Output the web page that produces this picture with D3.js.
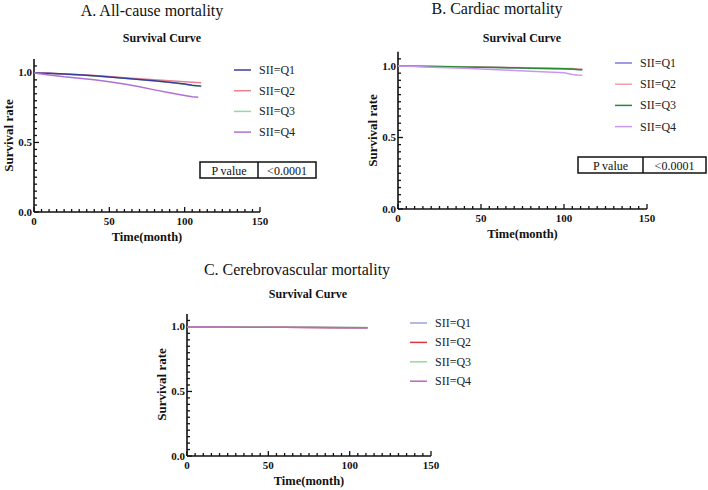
<!DOCTYPE html>
<html><head><meta charset="utf-8">
<script src="https://cdn.jsdelivr.net/npm/d3@7"></script>
<style>body{margin:0;background:#fff}svg{display:block}text{font-family:"Liberation Serif","Times New Roman",serif}</style>
</head><body>
<svg id="c" width="708" height="490"></svg>
<script>
// ---------- DATA ----------
const seriesNames = ["SII=Q1","SII=Q2","SII=Q3","SII=Q4"];
const xTicks = [0,50,100,150];
const yTicks = [0.0,0.5,1.0];
const pLabel = ["P value","<0.0001"];

// A. All-cause mortality
const timeA = [0,10,20,30,40,50,60,70,80,90,100,105,111];
const timeA4 = [0,10,20,30,40,50,60,70,80,90,100,105,109];
const a_Q1 = [1,0.997,0.992,0.986,0.979,0.971,0.962,0.953,0.943,0.932,0.92,0.912,0.905];
const a_Q2 = [1,0.997,0.993,0.987,0.981,0.974,0.966,0.958,0.950,0.943,0.936,0.933,0.93];
const a_Q3 = [1,0.996,0.991,0.985,0.978,0.970,0.961,0.952,0.942,0.931,0.918,0.910,0.903];
const a_Q4 = [1,0.985,0.972,0.962,0.950,0.937,0.920,0.900,0.878,0.857,0.838,0.828,0.825];

// B. Cardiac mortality
const timeB = [0,10,20,30,40,50,60,70,80,90,100,105,108,111];
const b_Q1 = [1,0.999,0.997,0.995,0.993,0.991,0.989,0.987,0.984,0.982,0.980,0.978,0.976,0.975];
const b_Q2 = [1,0.999,0.998,0.996,0.994,0.993,0.991,0.989,0.987,0.985,0.983,0.982,0.98,0.979];
const b_Q3 = [1,0.999,0.997,0.995,0.993,0.991,0.989,0.987,0.985,0.983,0.981,0.979,0.975,0.974];
const b_Q4 = [1,0.996,0.992,0.988,0.984,0.979,0.974,0.969,0.963,0.958,0.953,0.94,0.937,0.936];

// C. Cerebrovascular mortality
const timeC = [0,20,40,60,80,90,100,111];
const c_Q1 = [1,0.999,0.998,0.997,0.996,0.995,0.995,0.994];
const c_Q2 = [1,0.999,0.998,0.997,0.995,0.993,0.994,0.994];
const c_Q3 = [1,0.999,0.999,0.998,0.997,0.996,0.995,0.995];
const c_Q4 = [1,0.999,0.998,0.997,0.996,0.995,0.994,0.994];

// ---------- LAYOUT ----------
const panels = [
  {title:"A. All-cause mortality", tx:152, ty:16, sx:162, sy:42, x0:34, x1:260, yb:212, yt:59,
   colors:["#3a3c9c","#e8808e","#90dc98","#b070d4"],
   times:[timeA,timeA,timeA,timeA4], values:[a_Q1,a_Q2,a_Q3,a_Q4], order:[2,1,0,3],
   legX:234, legY:70, legDy:20.7, pbox:{x:200,y:162,w:116,h:16,div:58}},
  {title:"B. Cardiac mortality", tx:497, ty:14, sx:522, sy:42, x0:398, x1:647, yb:209, yt:51.7,
   colors:["#7a7ae0","#f0a0a6","#2a8a34","#c898f0"],
   times:[timeB,timeB,timeB,timeB], values:[b_Q1,b_Q2,b_Q3,b_Q4], order:[0,1,2,3],
   legX:615, legY:63, legDy:21.2, pbox:{x:578,y:157,w:128,h:16,div:65}},
  {title:"C. Cerebrovascular mortality", tx:297, ty:275, sx:308, sy:298, x0:187, x1:431, yb:456, yt:314,
   colors:["#a0a2d8","#d83a3a","#8ce08c","#c064c4"],
   times:[timeC,timeC,timeC,timeC], values:[c_Q1,c_Q2,c_Q3,c_Q4], order:[0,1,2,3],
   legX:410, legY:323, legDy:19.4, pbox:null}
];

const svg = d3.select("#c");

panels.forEach(p => {
  const g = svg.append("g");
  const x = d3.scaleLinear().domain([0,150]).range([p.x0,p.x1]);
  const y = d3.scaleLinear().domain([0,1.1]).range([p.yb,p.yt]);

  g.append("text").attr("x",p.tx).attr("y",p.ty).attr("text-anchor","middle")
    .attr("font-size",16).attr("fill","#111").text(p.title);
  g.append("text").attr("x",p.sx).attr("y",p.sy).attr("text-anchor","middle")
    .attr("font-size",12).attr("font-weight","bold").attr("fill","#111").text("Survival Curve");

  // axes lines
  g.append("line").attr("x1",p.x0).attr("x2",p.x0).attr("y1",y(0)).attr("y2",y(1.1))
    .attr("stroke","#111").attr("stroke-width",1.6);
  g.append("line").attr("x1",p.x0).attr("x2",p.x1).attr("y1",y(0)).attr("y2",y(0))
    .attr("stroke","#111").attr("stroke-width",1.6);

  // minor ticks (inward)
  const xMinor = d3.range(0,151,5);
  g.selectAll(null).data(xMinor).join("line")
    .attr("x1",d=>x(d)).attr("x2",d=>x(d)).attr("y1",y(0))
    .attr("y2",d=> y(0) - (d%50===0?5:3)).attr("stroke","#111").attr("stroke-width",1.3);
  const yMinor = d3.range(0,22).map(i=>i*0.05);
  g.selectAll(null).data(yMinor).join("line")
    .attr("y1",d=>y(d)).attr("y2",d=>y(d)).attr("x1",p.x0)
    .attr("x2",(d,i)=> p.x0 + (i%10===0?5:3)).attr("stroke","#111").attr("stroke-width",1.3);

  // tick labels
  g.selectAll(null).data(xTicks).join("text")
    .attr("x",d=>x(d)).attr("y",y(0)+13).attr("text-anchor","middle")
    .attr("font-size",11).attr("font-weight","bold").attr("fill","#111").text(d=>d);
  g.selectAll(null).data(yTicks).join("text")
    .attr("x",p.x0-2).attr("y",d=>y(d)+3.5).attr("text-anchor","end")
    .attr("font-size",11).attr("font-weight","bold").attr("fill","#111").text(d=>d.toFixed(1));

  // axis titles
  g.append("text").attr("x",(p.x0+p.x1)/2).attr("y",y(0)+29).attr("text-anchor","middle")
    .attr("font-size",12.5).attr("font-weight","bold").attr("fill","#111").text("Time(month)");
  const cy = (y(0)+y(1))/2 - 7;
  g.append("text").attr("transform",`translate(${p.x0-21},${cy}) rotate(-90)`)
    .attr("text-anchor","middle").attr("font-size",13).attr("font-weight","bold")
    .attr("fill","#111").text("Survival rate");

  // curves
  const line = d3.line().x(d=>x(d[0])).y(d=>y(d[1])).curve(d3.curveLinear);
  p.order.forEach(k => {
    const pts = p.times[k].map((t,i)=>[t,p.values[k][i]]);
    g.append("path").datum(pts).attr("d",line).attr("fill","none")
      .attr("stroke",p.colors[k]).attr("stroke-width",1.5);
  });

  // legend
  seriesNames.forEach((n,i)=>{
    const ly = p.legY + i*p.legDy;
    g.append("line").attr("x1",p.legX).attr("x2",p.legX+17).attr("y1",ly).attr("y2",ly)
      .attr("stroke",p.colors[i]).attr("stroke-width",1.5);
    g.append("text").attr("x",p.legX+25).attr("y",ly+4).attr("font-size",12)
      .attr("fill","#222").text(n);
  });

  // p-value box
  if (p.pbox) {
    const b = p.pbox;
    g.append("rect").attr("x",b.x).attr("y",b.y).attr("width",b.w).attr("height",b.h)
      .attr("fill","none").attr("stroke","#111").attr("stroke-width",1.5);
    g.append("line").attr("x1",b.x+b.div).attr("x2",b.x+b.div).attr("y1",b.y).attr("y2",b.y+b.h)
      .attr("stroke","#111").attr("stroke-width",1.5);
    g.append("text").attr("x",b.x+b.div/2).attr("y",b.y+12.5).attr("text-anchor","middle")
      .attr("font-size",12).attr("fill","#111").text(pLabel[0]);
    g.append("text").attr("x",b.x+b.div+(b.w-b.div)/2).attr("y",b.y+12.5).attr("text-anchor","middle")
      .attr("font-size",12).attr("fill","#111").text(pLabel[1]);
  }
});
</script>
</body></html>
